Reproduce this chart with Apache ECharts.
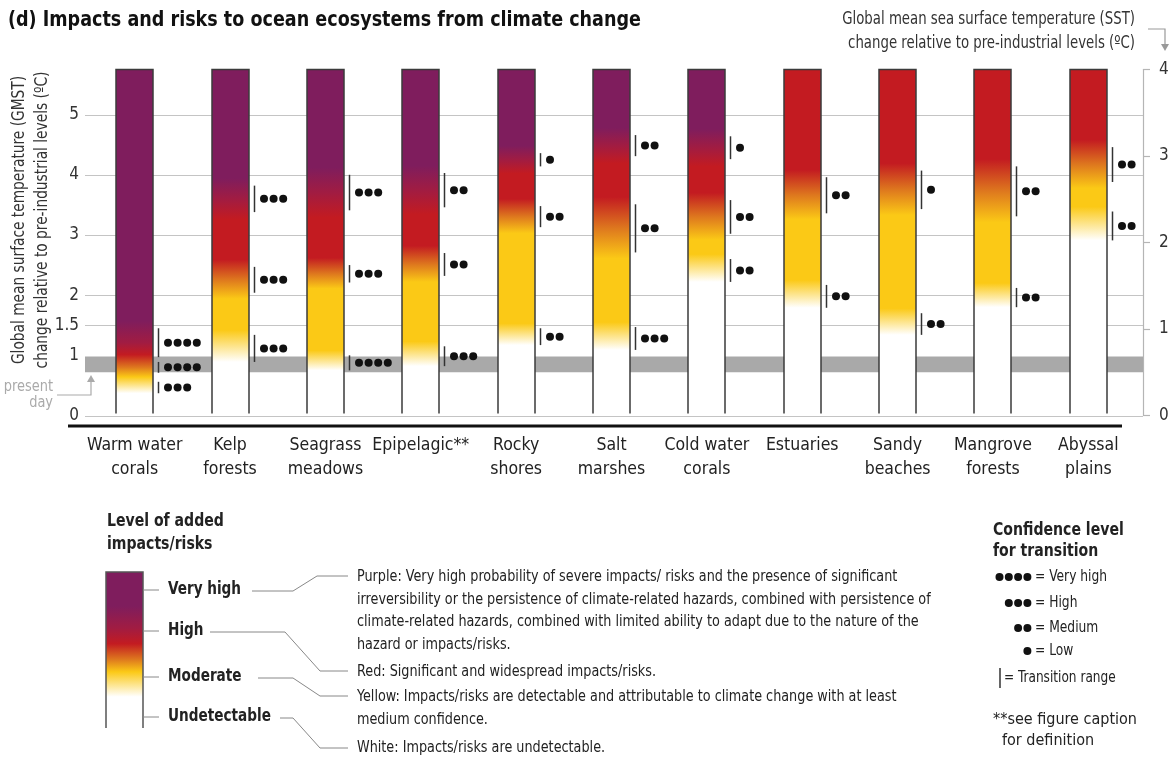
<!DOCTYPE html>
<html>
<head>
<meta charset="utf-8">
<script src="https://cdn.jsdelivr.net/npm/echarts@6/dist/echarts.min.js"></script>
<style>
  html, body { margin: 0; padding: 0; background: #fff; }
  #chart { width: 1173px; height: 761px; }
</style>
</head>
<body>
<div id="chart"></div>
<script>
const FONT = '"Liberation Sans Narrow", "DejaVu Sans Condensed", "Roboto Condensed", "Open Sans", sans-serif';

// ---- data (GMST, °C) ----
const categories = ['Warm water\ncorals', 'Kelp\nforests', 'Seagrass\nmeadows', 'Epipelagic**', 'Rocky\nshores',
  'Salt\nmarshes', 'Cold water\ncorals', 'Estuaries', 'Sandy\nbeaches', 'Mangrove\nforests', 'Abyssal\nplains'];

// transition ranges [from, to]
const undetectableToModerate = [[0.37, 0.56], [0.89, 1.34], [0.75, 1.0], [0.82, 1.15], [1.17, 1.45],
  [1.09, 1.47], [2.22, 2.6], [1.79, 2.17], [1.34, 1.7], [1.8, 2.12], [2.91, 3.39]];
const moderateToHigh = [[0.71, 0.89], [2.04, 2.47], [2.21, 2.5], [2.32, 2.7], [3.13, 3.48],
  [2.71, 3.51], [3.02, 3.58], [3.36, 3.96], [3.43, 4.07], [3.31, 4.14], [3.88, 4.46]];
const highToVeryHigh = [[0.97, 1.45], [3.38, 3.82], [3.41, 4.0], [3.46, 4.03], [4.14, 4.36],
  [4.31, 4.66], [4.26, 4.64], null, null, null, null];

// confidence (number of dots)
const confUndetectableToModerate = [3, 3, 4, 3, 2, 3, 2, 2, 2, 2, 2];
const confModerateToHigh = [4, 3, 3, 2, 2, 2, 2, 2, 1, 2, 2];
const confHighToVeryHigh = [4, 3, 3, 2, 1, 2, 1, null, null, null, null];

const emberTop = 5.75;
const gmstTicks = [0, 1, 1.5, 2, 3, 4, 5];
const gridValues = [0, 1.5, 2, 3, 4, 5];
const presentDay = [0.72, 0.98];
const sstMax = 4;

// ---- colours ----
const WHITE = '#ffffff', YELLOW = '#fbc916', ORANGE = '#de781e', RED = '#c31b21',
  CRIMSON = '#a11c42', PURPLE = '#7f1d5d';
const EMBER_W = 37;

function emberStops(i) {
  const u = undetectableToModerate[i], m = moderateToHigh[i], h = highToVeryHigh[i];
  const pts = [
    [0, WHITE], [u[0], WHITE], [u[1] + 0.08, YELLOW],
    [m[0] - 0.1, YELLOW], [(m[0] + m[1]) / 2, ORANGE], [m[1] + 0.12, RED]
  ];
  if (h) {
    pts.push([h[0] - 0.12, RED], [(h[0] + h[1]) / 2, CRIMSON], [h[1] + 0.12, PURPLE], [emberTop, PURPLE]);
  } else {
    pts.push([emberTop, RED]);
  }
  let prev = 0;
  return pts.map(([v, c]) => {
    v = Math.max(prev, Math.min(emberTop, v));
    prev = v;
    return { offset: v / emberTop, color: c };
  });
}

// flatten transitions for the dot markers
const transitions = [];
categories.forEach((c, i) => {
  transitions.push([i, undetectableToModerate[i][0], undetectableToModerate[i][1], confUndetectableToModerate[i]]);
  transitions.push([i, moderateToHigh[i][0], moderateToHigh[i][1], confModerateToHigh[i]]);
  if (highToVeryHigh[i]) {
    transitions.push([i, highToVeryHigh[i][0], highToVeryHigh[i][1], confHighToVeryHigh[i]]);
  }
});

const chart = echarts.init(document.getElementById('chart'));

// text placed at (x, y); sx squeezes it horizontally to mimic the condensed print font
const txt = (text, x, y, opt = {}, sx = 0.9) => ({
  type: 'text', silent: true, x, y, scaleX: sx,
  style: Object.assign({
    text, x: 0, y: 0, fontFamily: FONT, fontSize: 16, fill: '#222',
    align: 'left', textAlign: 'left', verticalAlign: 'middle', textVerticalAlign: 'middle'
  }, opt)
});
const right = { align: 'right', textAlign: 'right' };
const bold = { fontSize: 17, fontWeight: 'bold' };
const line = (points, stroke = '#888', lw = 1) => ({
  type: 'polyline', silent: true, shape: { points }, style: { fill: null, stroke, lineWidth: lw }
});
const dot = (x, y, r = 4) => ({ type: 'circle', silent: true, shape: { cx: x, cy: y, r }, style: { fill: '#111' } });

const graphics = [
  txt('(d) Impacts and risks to ocean ecosystems from climate change', 8, 21,
    { fontSize: 21, fontWeight: 'bold', fill: '#111' }, 0.93),
  txt('Global mean sea surface temperature (SST)', 1135, 20, Object.assign({ fontSize: 17, fill: '#333' }, right), 0.87),
  txt('change relative to pre-industrial levels (ºC)', 1135, 44, Object.assign({ fontSize: 17, fill: '#333' }, right), 0.87),
  line([[1148, 29], [1165, 29], [1165, 45]], '#999', 1.2),
  { type: 'polygon', silent: true, shape: { points: [[1161, 44], [1169, 44], [1165, 51]] }, style: { fill: '#999' } },
  {
    type: 'text', silent: true, x: 31, y: 220, rotation: Math.PI / 2, scaleX: 0.9,
    style: {
      text: 'Global mean surface temperature (GMST)\nchange relative to pre-industrial levels (ºC)',
      x: 0, y: 0, fontFamily: FONT, fontSize: 17, lineHeight: 23, fill: '#333',
      align: 'center', textAlign: 'center', verticalAlign: 'middle', textVerticalAlign: 'middle'
    }
  },
  txt('present', 53, 387, Object.assign({ fill: '#aaa' }, right)),
  txt('day', 53, 403, Object.assign({ fill: '#aaa' }, right)),
  line([[57, 395], [91, 395], [91, 381]], '#aaa', 1.2),
  { type: 'polygon', silent: true, shape: { points: [[87, 382], [95, 382], [91, 375]] }, style: { fill: '#aaa' } },
  // heavy baseline under the embers
  line([[68, 426], [1122, 426]], '#111', 3),

  // legend: level of added impacts/risks
  txt('Level of added', 107, 522, bold, 0.92),
  txt('impacts/risks', 107, 545, bold, 0.92),
  {
    type: 'rect', silent: true, shape: { x: 106, y: 572, width: 37, height: 156 },
    style: {
      fill: new echarts.graphic.LinearGradient(0, 0, 0, 1, [
        { offset: 0, color: PURPLE }, { offset: 0.22, color: PURPLE }, { offset: 0.36, color: CRIMSON },
        { offset: 0.46, color: RED }, { offset: 0.56, color: ORANGE }, { offset: 0.64, color: YELLOW },
        { offset: 0.8, color: WHITE }, { offset: 1, color: WHITE }
      ])
    }
  },
  line([[106, 728], [106, 572], [143, 572], [143, 728]], '#555', 1.5),
  line([[143, 590], [159, 590]]), line([[143, 631], [159, 631]]),
  line([[143, 677], [159, 677]]), line([[143, 717], [159, 717]]),
  txt('Very high', 168, 590, bold, 0.89),
  txt('High', 168, 631, bold, 0.89),
  txt('Moderate', 168, 677, bold, 0.89),
  txt('Undetectable', 168, 717, bold, 0.89),
  line([[252, 591], [293, 591], [317, 576], [348, 576]]),
  line([[210, 632], [285, 632], [320, 671], [348, 671]]),
  line([[258, 678], [293, 678], [320, 696], [348, 696]]),
  line([[280, 718], [293, 718], [320, 748], [348, 748]]),
  txt('Purple: Very high probability of severe impacts/ risks and the presence of significant', 357, 577, {}, 0.89),
  txt('irreversibility or the persistence of climate-related hazards, combined with persistence of', 357, 600, {}, 0.89),
  txt('climate-related hazards, combined with limited ability to adapt due to the nature of the', 357, 622, {}, 0.89),
  txt('hazard or impacts/risks.', 357, 645, {}, 0.89),
  txt('Red: Significant and widespread impacts/risks.', 357, 672, {}, 0.89),
  txt('Yellow: Impacts/risks are detectable and attributable to climate change with at least', 357, 697, {}, 0.89),
  txt('medium confidence.', 357, 720, {}, 0.89),
  txt('White: Impacts/risks are undetectable.', 357, 748, {}, 0.89),

  // legend: confidence
  txt('Confidence level', 993, 531, bold, 0.92),
  txt('for transition', 993, 552, bold, 0.92),
  dot(999.5, 577), dot(1008.8, 577), dot(1018.1, 577), dot(1027.4, 577),
  txt('= Very high', 1035, 577, { fontSize: 15 }, 0.91),
  dot(1008.8, 603), dot(1018.1, 603), dot(1027.4, 603),
  txt('= High', 1035, 603, { fontSize: 15 }, 0.91),
  dot(1018.1, 628), dot(1027.4, 628),
  txt('= Medium', 1035, 628, { fontSize: 15 }, 0.91),
  dot(1027.4, 651),
  txt('= Low', 1035, 651, { fontSize: 15 }, 0.91),
  line([[1000, 668], [1000, 688]], '#333', 1.5),
  txt('= Transition range', 1004, 678, { fontSize: 15 }, 0.9),
  txt('**see figure caption', 993, 720, { fontSize: 16 }, 1),
  txt('for definition', 1002, 741, { fontSize: 16 }, 1)
];

const option = {
  animation: false,
  backgroundColor: '#fff',
  grid: { left: 87, right: 37, top: 69.5, bottom: 345.5, containLabel: false, outerBoundsMode: 'none' },
  xAxis: {
    type: 'category', data: categories, offset: 10,
    axisLine: { show: false, onZero: false },
    axisTick: { show: false },
    axisLabel: { interval: 0, fontFamily: FONT, fontSize: 17.5, lineHeight: 24, color: '#222', margin: 8 }
  },
  yAxis: [{
    type: 'value', min: 0, max: emberTop, position: 'left',
    axisLine: { show: false }, axisTick: { show: false }, splitLine: { show: false },
    axisLabel: { customValues: gmstTicks, fontFamily: FONT, fontSize: 17, color: '#333', margin: 8 }
  }, {
    type: 'value', min: 0, max: sstMax, interval: 1, position: 'right', offset: 7,
    axisLine: { show: true, lineStyle: { color: '#b5b5b5', width: 1.2 } },
    axisTick: { show: true, length: 7, lineStyle: { color: '#b5b5b5', width: 1.2 } },
    splitLine: { show: false },
    axisLabel: { fontFamily: FONT, fontSize: 17, color: '#333', margin: 16 }
  }],
  graphic: graphics,
  series: [
    { // present-day band
      type: 'custom', z: 1, silent: true,
      data: [[0, presentDay[0], presentDay[1]]],
      renderItem: (params, api) => {
        const cs = params.coordSys;
        const y0 = api.coord([0, api.value(1)])[1], y1 = api.coord([0, api.value(2)])[1];
        return { type: 'rect', shape: { x: cs.x - 2, y: y1, width: cs.width + 9, height: y0 - y1 }, style: { fill: '#a9a9a9' } };
      }
    },
    { // grid lines
      type: 'custom', z: 1, silent: true,
      data: gridValues.map(v => [0, v]),
      renderItem: (params, api) => {
        const cs = params.coordSys;
        const y = Math.round(api.coord([0, api.value(1)])[1]) + 0.5;
        return { type: 'line', shape: { x1: cs.x - 2, y1: y, x2: cs.x + cs.width + 7, y2: y }, style: { stroke: '#c4c4c4', lineWidth: 1.2 } };
      }
    },
    { // embers
      type: 'custom', z: 3, silent: true,
      data: categories.map((c, i) => [i, emberTop]),
      renderItem: (params, api) => {
        const i = api.value(0);
        const base = api.coord([i, 0]);
        const top = api.coord([i, api.value(1)]);
        const x0 = Math.round(base[0] - EMBER_W / 2);
        return {
          type: 'group', children: [
            { type: 'rect', shape: { x: x0, y: top[1], width: EMBER_W, height: base[1] - top[1] },
              style: { fill: new echarts.graphic.LinearGradient(0, 1, 0, 0, emberStops(i)) } },
            { type: 'polyline', shape: { points: [[x0, base[1] - 2], [x0, top[1]], [x0 + EMBER_W, top[1]], [x0 + EMBER_W, base[1] - 2]] },
              style: { fill: null, stroke: '#3b3b3b', lineWidth: 1.5 } }
          ]
        };
      }
    },
    { // transition ranges and confidence dots
      type: 'custom', z: 4, silent: true,
      data: transitions,
      renderItem: (params, api) => {
        const i = api.value(0);
        const lo = api.coord([i, api.value(1)]);
        const hi = api.coord([i, api.value(2)]);
        const n = api.value(3);
        const lx = Math.round(lo[0] + EMBER_W / 2) + 5.5;
        const ym = (lo[1] + hi[1]) / 2;
        const children = [{ type: 'line', shape: { x1: lx, y1: lo[1], x2: lx, y2: hi[1] }, style: { stroke: '#333', lineWidth: 1.5 } }];
        for (let k = 0; k < n; k++) {
          children.push({ type: 'circle', shape: { cx: lx + 9.5 + k * 9.6, cy: ym, r: 4 }, style: { fill: '#111' } });
        }
        return { type: 'group', children };
      }
    }
  ]
};

chart.setOption(option);
</script>
</body>
</html>
